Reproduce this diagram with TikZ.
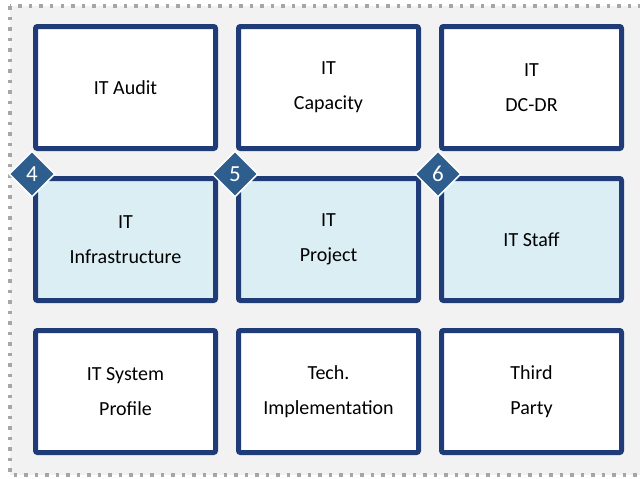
\documentclass[tikz,border=0pt]{standalone}
\usepackage{fontspec}
\setmainfont{Carlito}
\usetikzlibrary{shapes.geometric}

\definecolor{boxblue}{HTML}{1F3B78}
\definecolor{lightfill}{HTML}{DAEEF3}
\definecolor{badgeblue}{HTML}{2E5E8E}
\definecolor{panelgray}{HTML}{F2F2F2}
\definecolor{dotgray}{HTML}{A6A6A6}

\tikzset{
  area/.style={draw=boxblue, line width=5pt, rounded corners=2pt, fill=white,
    minimum width=180pt, minimum height=122pt, align=center,
    font=\fontsize{20}{35}\selectfont},
  focus/.style={area, fill=lightfill},
  badge/.style={diamond, draw=white, line width=1.5pt, fill=badgeblue,
    minimum width=46pt, minimum height=46pt, inner sep=0pt, text=white,
    font=\fontsize{23}{23}\selectfont}
}

\begin{document}
\begin{tikzpicture}[x=1pt,y=-1pt]
\useasboundingbox (0,0) rectangle (640,479);
\draw[fill=panelgray, draw=dotgray, line width=4pt, dash pattern=on 3.5pt off 7pt] (10,6) rectangle (660,475);

% top row
\node[area] (audit) at (125.5,87.5) {IT Audit};
\node[area] (capacity) at (328.5,87.5) {IT\\Capacity};
\node[area] (dcdr) at (531.5,87.5) {IT\\DC-DR};

% middle row
\node[focus] (infra) at (125.5,239.5) {IT\\Infrastructure};
\node[focus] (project) at (328.5,239.5) {IT\\Project};
\node[focus] (staff) at (531.5,239.5) {IT Staff};

% bottom row
\node[area] (sysprofile) at (125.5,391.5) {IT System\\Profile};
\node[area] (techimpl) at (328.5,391.5) {Tech.\\Implementation};
\node[area] (thirdparty) at (531.5,391.5) {Third\\Party};

% numbers
\node[badge] (b4) at ([shift={(-1,-2)}]infra.north west) {4};
\node[badge] (b5) at ([shift={(-1,-2)}]project.north west) {5};
\node[badge] (b6) at ([shift={(-1,-2)}]staff.north west) {6};
\end{tikzpicture}
\end{document}
